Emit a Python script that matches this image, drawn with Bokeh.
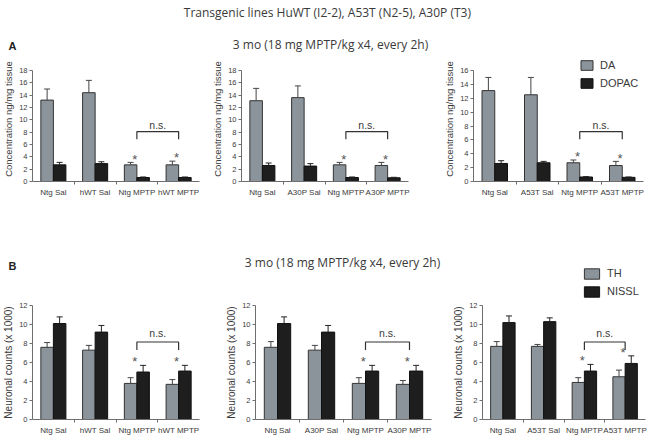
import numpy as np
from bokeh.plotting import figure
from bokeh.models import (Range1d, FixedTicker, ColumnDataSource, Whisker, TeeHead,
                          Label, Legend, LegendItem)
from bokeh.layouts import column, row
from bokeh.embed import file_html
from bokeh.resources import INLINE
from bokeh.core.properties import value

# ---------------- data ----------------
TITLE = "Transgenic lines HuWT (I2-2),  A53T (N2-5),  A30P (T3)"
SUBTITLE = "3 mo (18 mg MPTP/kg x4, every 2h)"
YLABEL_A = "Concentration ng/mg tissue"
YLABEL_B = "Neuronal counts (x 1000)"
SERIES_A = ["DA", "DOPAC"]
SERIES_B = ["TH", "NISSL"]

groups_hwt = ["Ntg Sal", "hWT Sal", "Ntg MPTP", "hWT MPTP"]
groups_a30p = ["Ntg Sal", "A30P Sal", "Ntg MPTP", "A30P MPTP"]
groups_a53t = ["Ntg Sal", "A53T Sal", "Ntg MPTP", "A53T MPTP"]

# Panel A: DA / DOPAC (ng/mg tissue), mean and upper error
da_hwt = [13.2, 14.4, 2.7, 2.7]
da_hwt_err = [1.8, 2.0, 0.4, 0.6]
dopac_hwt = [2.7, 2.9, 0.65, 0.65]
dopac_hwt_err = [0.4, 0.3, 0.08, 0.08]

da_a30p = [13.1, 13.6, 2.7, 2.6]
da_a30p_err = [2.0, 1.9, 0.4, 0.5]
dopac_a30p = [2.6, 2.5, 0.65, 0.6]
dopac_a30p_err = [0.4, 0.4, 0.08, 0.08]

da_a53t = [13.1, 12.5, 2.7, 2.3]
da_a53t_err = [1.9, 2.5, 0.4, 0.6]
dopac_a53t = [2.6, 2.7, 0.65, 0.6]
dopac_a53t_err = [0.4, 0.2, 0.05, 0.05]

# Panel B: TH / NISSL neuronal counts (x 1000)
th_hwt = [7.6, 7.3, 3.8, 3.7]
th_hwt_err = [0.5, 0.5, 0.6, 0.5]
nissl_hwt = [10.1, 9.2, 5.0, 5.1]
nissl_hwt_err = [0.7, 0.7, 0.7, 0.6]

th_a30p = [7.6, 7.3, 3.8, 3.7]
th_a30p_err = [0.6, 0.5, 0.6, 0.4]
nissl_a30p = [10.1, 9.2, 5.1, 5.1]
nissl_a30p_err = [0.7, 0.7, 0.6, 0.6]

th_a53t = [7.7, 7.7, 3.9, 4.5]
th_a53t_err = [0.5, 0.2, 0.5, 0.7]
nissl_a53t = [10.2, 10.3, 5.1, 5.9]
nissl_a53t_err = [0.7, 0.4, 0.7, 0.8]

sig_groups = [2, 3]      # groups marked with *
ns_pair = [2, 3]         # groups joined by the n.s. bracket

# ---------------- style ----------------
AX = "#6e6e6e"
TXT = "#3a3a3a"
C1 = "#8c949b"
C2 = "#1e1e1e"
SANS = "Liberation Sans"
HEAD = "Open Sans"


def panel(groups, v1, e1, v2, e2, ymax, ylabel, width, height,
          left, right, top, bottom, brk, ylab_size, frame_h=None):
    # frame_h: nominal pixel height of the 0..ymax axis; the frame may be taller
    fh = height - top - bottom
    yend = ymax if frame_h is None else ymax * fh / frame_h
    p = figure(width=width, height=height, output_backend="svg", toolbar_location=None,
               title=None,
               x_range=Range1d(-0.5, len(groups) - 0.5), y_range=Range1d(0, yend),
               min_border_left=left, min_border_right=right,
               min_border_top=top, min_border_bottom=bottom)
    p.outline_line_color = None
    p.grid.visible = False
    xs = np.arange(len(groups))
    u1 = np.add(v1, e1)
    u2 = np.add(v2, e2)
    src = ColumnDataSource(dict(x1=xs - 0.15, x2=xs + 0.15, v1=v1, v2=v2, u1=u1, u2=u2))
    r1 = p.vbar(x="x1", top="v1", width=0.3, source=src, fill_color=C1,
                line_color="#333333", line_width=1)
    r2 = p.vbar(x="x2", top="v2", width=0.3, source=src, fill_color=C2,
                line_color="#111111", line_width=1)
    for xk, lo, hi, col in (("x1", "v1", "u1", "#444444"), ("x2", "v2", "u2", "#222222")):
        w = Whisker(base=xk, lower=lo, upper=hi, source=src, line_color=col, line_width=1,
                    upper_head=TeeHead(size=6, line_color=col, line_width=1),
                    lower_head=None, level="overlay")
        p.add_layout(w)

    # significance stars
    tops = np.maximum(u1, u2)
    sx = [g - 0.05 for g in sig_groups]
    sy = [tops[g] + ymax * 0.03 for g in sig_groups]
    p.text(x=sx, y=sy, text=["*"] * len(sx), text_align="center", text_baseline="middle",
           text_font=value(SANS), text_font_size="13px", text_color="#555555")

    # n.s. bracket
    a, b = ns_pair
    bt, bl, bn = brk
    p.line(x=[a, a, b, b], y=[ymax * bl, ymax * bt, ymax * bt, ymax * bl],
           line_color="#333333", line_width=1.2)
    p.text(x=[(a + b) / 2], y=[ymax * bn], text=["n.s."], text_align="center",
           text_baseline="middle", text_font=value(SANS), text_font_size="10.5px",
           text_color=TXT)

    # axes
    xa = p.xaxis[0]
    xa.ticker = FixedTicker(ticks=[int(i) for i in xs],
                            minor_ticks=[float(i) + 0.5 for i in xs[:-1]])
    xa.major_label_overrides = {int(i): g for i, g in enumerate(groups)}
    xa.major_tick_line_color = None
    xa.major_tick_out = 0
    xa.major_tick_in = 0
    xa.minor_tick_out = 3
    xa.minor_tick_in = 0
    xa.minor_tick_line_color = AX
    xa.axis_line_color = AX
    xa.major_label_text_font = SANS
    xa.major_label_text_font_size = "8px"
    xa.major_label_text_color = TXT
    xa.major_label_standoff = 3

    ya = p.yaxis[0]
    ya.ticker = FixedTicker(ticks=list(range(0, ymax + 1, 2)))
    ya.minor_tick_line_color = None
    ya.major_tick_out = 3
    ya.major_tick_in = 0
    ya.major_tick_line_color = AX
    ya.axis_line_color = AX
    if frame_h is not None:
        ya.bounds = (0, ymax)
    ya.major_label_text_font = SANS
    ya.major_label_text_font_size = "7.5px"
    ya.major_label_text_color = TXT
    ya.major_label_standoff = 2
    ya.axis_label = ylabel
    ya.axis_label_text_font = SANS
    ya.axis_label_text_font_style = "normal"
    ya.axis_label_text_font_size = ylab_size
    ya.axis_label_text_color = TXT
    ya.axis_label_standoff = 2
    return p, r1, r2


def make_legend(r1, r2, names, loc, gw, gh, spacing):
    return Legend(items=[LegendItem(label=names[0], renderers=[r1]),
                         LegendItem(label=names[1], renderers=[r2])],
                  location=loc, border_line_color=None, background_fill_alpha=0,
                  inactive_fill_alpha=0,
                  padding=0, margin=0, spacing=spacing, glyph_width=gw, glyph_height=gh,
                  label_height=gh, label_standoff=6, label_text_font=SANS,
                  label_text_font_size="11px", label_text_color=TXT)


def header(height):
    h = figure(width=660, height=height, output_backend="svg", toolbar_location=None,
               title=None, x_range=Range1d(0, 1), y_range=Range1d(0, 1), x_axis_type=None,
               y_axis_type=None, min_border=0)
    h.outline_line_color = None
    return h


BRK_A = (0.45, 0.38, 0.51)
BRK_B = (0.68, 0.61, 0.76)

# ---------------- header A ----------------
ha = header(54)
ha.add_layout(Label(x=330, y=42, x_units="screen", y_units="screen", text=TITLE,
                    text_align="center", text_baseline="middle", text_font=HEAD,
                    text_font_size="12px", text_color=TXT))
ha.add_layout(Label(x=330, y=10, x_units="screen", y_units="screen", text=SUBTITLE,
                    text_align="center", text_baseline="middle", text_font=HEAD,
                    text_font_size="12px", text_color=TXT))
ha.add_layout(Label(x=12, y=9, x_units="screen", y_units="screen", text="A",
                    text_align="center", text_baseline="middle", text_font=SANS,
                    text_font_style="bold", text_font_size="11px", text_color="#222222"))

# ---------------- row A (all frames extended upward, axes bounded) ----------------
a1, _, _ = panel(groups_hwt, da_hwt, da_hwt_err, dopac_hwt, dopac_hwt_err, 18, YLABEL_A,
                 206, 159, 32, 7, 2, 32, BRK_A, "9.5px", frame_h=111)
a2, _, _ = panel(groups_a30p, da_a30p, da_a30p_err, dopac_a30p, dopac_a30p_err, 18, YLABEL_A,
                 234, 159, 35, 32, 2, 32, BRK_A, "9.5px", frame_h=111)
a3, ra1, ra2 = panel(groups_a53t, da_a53t, da_a53t_err, dopac_a53t, dopac_a53t_err, 16,
                     YLABEL_A, 220, 159, 33, 17, 2, 32, BRK_A, "9.5px", frame_h=111)
a3.add_layout(make_legend(ra1, ra2, SERIES_A, (106, 92.5), 15, 12, 6))

# ---------------- header B (panel letter, subtitle, legend) ----------------
hb = header(85)
hb.add_layout(Label(x=12, y=33, x_units="screen", y_units="screen", text="B",
                    text_align="center", text_baseline="middle", text_font=SANS,
                    text_font_style="bold", text_font_size="11px", text_color="#222222"))
hb.add_layout(Label(x=342, y=36, x_units="screen", y_units="screen", text=SUBTITLE,
                    text_align="center", text_baseline="middle", text_font=HEAD,
                    text_font_size="12px", text_color=TXT))
# legend key proxies (hidden renderers; only their legend swatches are shown)
kb1 = hb.vbar(x=[0.5], top=[0.5], width=0.1, fill_color=C1, line_color="#333333",
              line_width=1, visible=False)
kb2 = hb.vbar(x=[0.5], top=[0.5], width=0.1, fill_color=C2, line_color="#111111",
              line_width=1, visible=False)
hb.add_layout(make_legend(kb1, kb2, SERIES_B, (582, 0.5), 19, 13, 5))

# ---------------- row B ----------------
b1, _, _ = panel(groups_hwt, th_hwt, th_hwt_err, nissl_hwt, nissl_hwt_err, 12, YLABEL_B,
                 222, 139, 32, 23, 7, 18, BRK_B, "10px")
b2, _, _ = panel(groups_a30p, th_a30p, th_a30p_err, nissl_a30p, nissl_a30p_err, 12, YLABEL_B,
                 227, 139, 33, 18, 7, 18, BRK_B, "10px")
b3, _, _ = panel(groups_a53t, th_a53t, th_a53t_err, nissl_a53t, nissl_a53t_err, 12,
                 YLABEL_B, 211, 139, 33, 15, 7, 18, BRK_B, "10px")

layout = column(ha, row(a1, a2, a3), hb, row(b1, b2, b3))
open("out.html", "w").write(file_html(layout, INLINE))
